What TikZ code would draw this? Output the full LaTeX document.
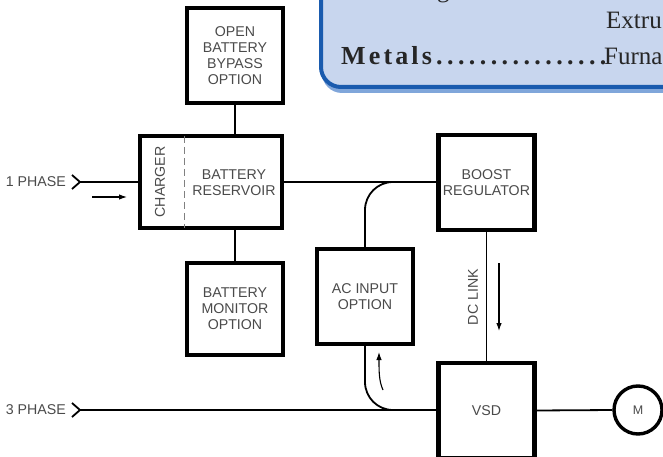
\documentclass[tikz,border=0pt]{standalone}
\usepackage{fontspec}
\setmainfont{Liberation Sans}
\newfontfamily\bannerfont{Liberation Serif}
\usepackage{tikz}
\usetikzlibrary{arrows.meta,positioning}
\definecolor{bannerfill}{HTML}{C8D6EE}
\definecolor{bannerline}{HTML}{1A5BAE}
\definecolor{bannershadow}{HTML}{80A6DA}
\definecolor{labelgray}{HTML}{4A4A4A}

\begin{document}
\begin{tikzpicture}[x=1pt,y=-1pt,
  blk/.style={draw,line width=4.2pt,minimum width=96pt,minimum height=95pt,inner sep=0pt,
    text=labelgray,align=center,font=\fontsize{14.2}{16}\selectfont},
  wire/.style={line width=1.8pt},
  chev/.style={line width=1.8pt,line join=miter},
  flow/.style={line width=1.1pt,-{Latex[length=8pt,width=5.5pt]}},
  lbl/.style={text=labelgray,font=\fontsize{14.2}{16}\selectfont,inner sep=0pt},
  bannertext/.style={anchor=base west,inner sep=0pt,text=black!85,
    font=\bannerfont\fontsize{25}{30}\selectfont}]
\useasboundingbox (0,0) rectangle (663,457);
\clip (0,0) rectangle (663,457);

% Banner
\fill[bannershadow,rounded corners=20pt] (322,-40) rectangle (720,93);
\draw[bannerline,fill=bannerfill,line width=4pt,rounded corners=20pt] (321,-40) rectangle (720,87);
\node[bannertext] (gtail) at (437,-2.5) {g};
\node[bannertext] (extru) at (606,29) {Extru};
\node[bannertext,font=\bannerfont\bfseries\fontsize{26}{30}\selectfont\addfontfeature{LetterSpace=12}] (metals) at (341,65) {Metals};
\node[bannertext,font=\bannerfont\bfseries\fontsize{26}{30}\selectfont\addfontfeature{LetterSpace=17}] (dots) at (436,65) {................};
\node[bannertext] (furna) at (604,65) {Furna};

% Blocks
\node[blk] (bypass) at (235,55.5) {OPEN\\BATTERY\\BYPASS\\OPTION};
\node[blk,minimum width=142pt,minimum height=92pt] (charger) at (211,182) {};
\node[blk,minimum height=92pt] (monitor) at (235,309) {BATTERY\\MONITOR\\OPTION};
\node[blk] (boost) at (486.5,182.5) {BOOST\\REGULATOR};
\node[blk] (acin) at (365,296.5) {AC INPUT\\OPTION};
\node[blk] (vsd) at (486.5,410.5) {VSD};
\node[blk,circle,minimum size=48pt,line width=3.4pt,font=\fontsize{12.5}{14}\selectfont] (motor) at (638,410) {M};

% Charger / reservoir split
\draw[gray,line width=1pt,dash pattern=on 7pt off 4pt]
  ([xshift=47pt,yshift=-2pt]charger.north west) -- ([xshift=47pt,yshift=2pt]charger.south west);
\node[lbl,rotate=90] (chglbl) at ([xshift=22pt]charger.west) {CHARGER};
\node[lbl,align=center] (reslbl) at ([xshift=23pt,yshift=-1pt]charger.center) {BATTERY\\RESERVOIR};

% Inputs
\coordinate (in1) at (80,182);
\coordinate (in3) at (80,410);
\draw[chev] ([xshift=-8pt,yshift=7pt]in1) -- (in1) -- ([xshift=-8pt,yshift=-7pt]in1);
\draw[chev] ([xshift=-8pt,yshift=7pt]in3) -- (in3) -- ([xshift=-8pt,yshift=-7pt]in3);
\node[lbl,left=14pt of in1] (ph1) {1 PHASE};
\node[lbl,left=14pt of in3] (ph3) {3 PHASE};

% Wiring
\draw[wire] (in1) -- (charger.west);
\draw[wire] (bypass.south) -- (bypass.south |- charger.north);
\draw[wire] (monitor.north |- charger.south) -- (monitor.north);
\draw[wire] (charger.east) -- (charger.east -| boost.west);
\draw[wire,rounded corners=28pt] (acin.north) |- ([xshift=30pt]acin.north |- charger.east);
\draw[wire] (boost.south) -- (vsd.north);
\draw[wire,rounded corners=28pt] (acin.south) |- ([xshift=30pt]acin.south |- in3);
\draw[wire] (in3) -- (in3 -| vsd.west);
\draw[wire] (vsd.east) -- (motor.west);

% Flow arrows
\draw[flow] (92,197) -- (127,197);
\draw[flow] (499,263) -- (499,331);
\draw[flow] (383,390) .. controls (379,381) and (379,372) .. (379,352);
\node[lbl,rotate=90] (dclink) at (473,297) {DC LINK};
\end{tikzpicture}
\end{document}
